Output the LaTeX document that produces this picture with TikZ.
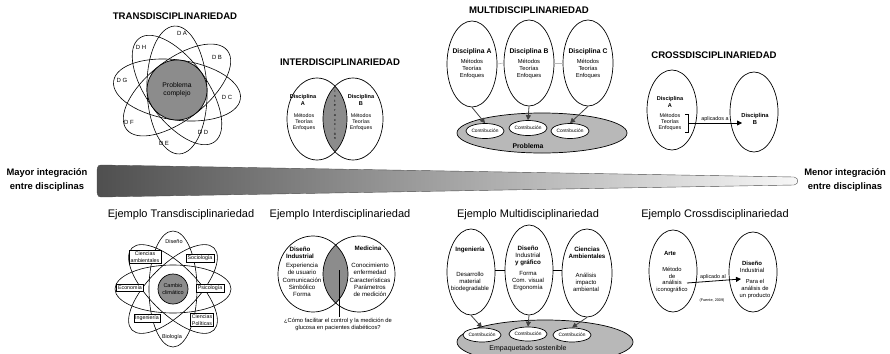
\documentclass[tikz,border=0pt]{standalone}
\usepackage{fontspec}
\setmainfont{Liberation Sans}
\usetikzlibrary{shapes.geometric,arrows.meta}
\definecolor{cg}{gray}{0.55}
\definecolor{lg}{gray}{0.72}
\definecolor{arrc}{gray}{0.25}
\definecolor{barl}{gray}{0.31}
\definecolor{barm}{gray}{0.46}
\definecolor{barr}{gray}{0.97}
\begin{document}
\begin{tikzpicture}[x=1pt,y=-1pt,
  ttl/.style={font=\fontsize{9.6}{11}\selectfont\bfseries, inner sep=0},
  ejt/.style={font=\fontsize{11}{13}\selectfont, inner sep=0},
  side/.style={font=\fontsize{9.4}{13.5}\selectfont\bfseries, align=center, inner sep=0},
  tx/.style={font=\fontsize{5.6}{6.6}\selectfont, align=center, inner sep=0.5pt},
  dl/.style={font=\fontsize{6}{7}\selectfont, inner sep=0.5pt},
  txi/.style={font=\fontsize{6.1}{7.2}\selectfont, align=center, inner sep=0.5pt},
  txs/.style={font=\fontsize{5.4}{6}\selectfont, align=center, inner sep=0.5pt},
  txb/.style={font=\fontsize{6}{7}\selectfont\bfseries, align=center, inner sep=0.5pt},
  lab/.style={font=\fontsize{5.3}{6.3}\selectfont, align=center, inner sep=1.5pt, draw, line width=0.4pt, fill=white},
  ell/.style={ellipse, draw, line width=0.7pt, inner sep=0},
  con/.style={ellipse, draw, line width=0.7pt, inner sep=0, fill=white, minimum width=38, minimum height=15, font=\fontsize{4.8}{5.5}\selectfont},
  arr/.style={-{Triangle[length=5pt,width=5pt]}, draw=arrc, line width=0.8pt},
  thinl/.style={line width=0.6pt}]
\clip (0,0) rectangle (890,353);
\fill[white] (0,0) rectangle (890,353);

% ================= TOP: TRANSDISCIPLINARIEDAD =================
\node[ttl] (ttrans) at (175,16) {TRANSDISCIPLINARIEDAD};
\foreach \r in {92,38,-8,-54}
  \draw[thinl, rotate around={\r:(177,90)}] (177,90) ellipse [x radius=64, y radius=30];
\node[circle, draw, line width=0.7pt, fill=cg, minimum size=60, inner sep=0, font=\fontsize{6.8}{8}\selectfont, align=center] (pc) at (177,90) {Problema\\complejo};
\node[dl] (da) at (182,33) {D\kern1.6pt A};
\node[dl] (db) at (217,57) {D\kern1.6pt B};
\node[dl] (dc) at (227,97) {D\kern1.6pt C};
\node[dl] (dd) at (203,132) {D\kern1.6pt D};
\node[dl] (de) at (164,143) {D\kern1.6pt E};
\node[dl] (df) at (129,122) {D\kern1.6pt F};
\node[dl] (dg) at (122,80) {D\kern1.6pt G};
\node[dl] (dh) at (141,47) {D\kern1.6pt H};

% ================= TOP: INTERDISCIPLINARIEDAD =================
\node[ttl] (tinter) at (340,62) {INTERDISCIPLINARIEDAD};
\begin{scope}
  \clip (317,119) ellipse [x radius=30, y radius=41];
  \fill[cg] (353,119) ellipse [x radius=30, y radius=41];
\end{scope}
\node[ell, minimum width=60, minimum height=82] (iA) at (317,119) {};
\node[ell, minimum width=60, minimum height=82] (iB) at (353,119) {};
\node[txb, font=\fontsize{5.6}{6.6}\selectfont\bfseries] (iAt) at (303,100) {Disciplina\\A};
\node[tx, font=\fontsize{5.3}{6.4}\selectfont] (iAm) at (304,122) {Métodos\\Teorías\\Enfoques};
\node[txb, font=\fontsize{5.6}{6.6}\selectfont\bfseries] (iBt) at (361,100) {Disciplina\\B};
\node[tx, font=\fontsize{5.3}{6.4}\selectfont] (iBm) at (361,122) {Métodos\\Teorías\\Enfoques};
\node[font=\fontsize{3.8}{4.7}\selectfont, align=center, inner sep=0] (iint) at (335,115) {i\\n\\t\\e\\r\\a\\c\\c\\i\\ó\\n};

% ================= TOP: MULTIDISCIPLINARIEDAD =================
\node[ttl] (tmulti) at (529,10) {MULTIDISCIPLINARIEDAD};
\node[ell, fill=lg, minimum width=170, minimum height=40] (mP) at (542,133) {};
\node[ell, minimum width=50, minimum height=86] (mA) at (472,64) {};
\node[ell, minimum width=50, minimum height=86] (mB) at (529,63) {};
\node[ell, minimum width=50, minimum height=86] (mC) at (588,63) {};
\draw[gray!55, thinl] (mA.east) -- (mB.west);
\draw[gray!55, thinl] (mB.east) -- (mC.west);
\node[txb, font=\fontsize{6.8}{8}\selectfont\bfseries] (mAt) at (472,52) {Disciplina A};
\node[tx, font=\fontsize{5.8}{6.6}\selectfont] (mAm) at (472,69) {Métodos\\Teorías\\Enfoques};
\node[txb, font=\fontsize{6.8}{8}\selectfont\bfseries] (mBt) at (529,52) {Disciplina B};
\node[tx, font=\fontsize{5.8}{6.6}\selectfont] (mBm) at (529,69) {Métodos\\Teorías\\Enfoques};
\node[txb, font=\fontsize{6.8}{8}\selectfont\bfseries] (mCt) at (588,52) {Disciplina C};
\node[tx, font=\fontsize{5.8}{6.6}\selectfont] (mCm) at (588,69) {Métodos\\Teorías\\Enfoques};
\node[con] (mc1) at (485,131) {Contribución};
\node[con] (mc2) at (528,128) {Contribución};
\node[con] (mc3) at (570,131) {Contribución};
\node[txb, font=\fontsize{6.8}{8}\selectfont\bfseries] (mPt) at (528,146) {Problema};
\draw[arr] (mA.south) -- (mc1.north);
\draw[arr] (mB.south) -- (mc2.north);
\draw[arr] (mC.south) -- (mc3.north);

% ================= TOP: CROSSDISCIPLINARIEDAD =================
\node[ttl] (tcross) at (714,55) {CROSSDISCIPLINARIEDAD};
\node[ell, minimum width=50, minimum height=80] (cA) at (672,110) {};
\node[ell, minimum width=48, minimum height=80] (cB) at (754,112) {};
\node[txb, font=\fontsize{5.6}{6.6}\selectfont\bfseries] (cAt) at (670,102) {Disciplina\\A};
\node[tx, font=\fontsize{5.4}{6.2}\selectfont] (cAm) at (670,122) {Métodos\\Teorías\\Enfoques};
\draw[thinl] (685,114) -- (688,114) -- (688,132) -- (685,132);
\coordinate (cbr) at (688,123);
\coordinate (cend) at (742,123);
\draw[arr, draw=black] (cbr) -- (cend);
\node[txs] (capl) at (715,119) {aplicados a};
\node[txb, font=\fontsize{5.8}{6.8}\selectfont\bfseries] (cBt) at (755,119) {Disciplina\\B};

% ================= MIDDLE BAR =================
\shade[left color=barl, middle color=barm, right color=barr, draw=gray!60!black, line width=0.4pt]
  (101,165) -- (794,177) .. controls (799,177.5) and (799,184.5) .. (794,185)
  -- (101,197) .. controls (97,197) and (97,193) .. (97,189)
  -- (97,173) .. controls (97,169) and (97,165) .. (101,165) -- cycle;
\node[side] (mayor) at (47,180) {Mayor integración\\entre disciplinas};
\node[side] (menor) at (845,180) {Menor integración\\entre disciplinas};

% ================= BOTTOM: EJEMPLO TRANS =================
\node[ejt] (etrans) at (181,215) {Ejemplo Transdisciplinariedad};
\foreach \r in {0,45,90,135}
  \draw[thinl, rotate around={\r:(173,289)}] (173,289) ellipse [x radius=58, y radius=24];
\node[circle, draw, line width=0.7pt, fill=cg, minimum size=30, inner sep=0, font=\fontsize{5.5}{6.4}\selectfont, align=center] (cc) at (173,289) {Cambio\\climático};
\node[tx, font=\fontsize{5.5}{6.2}\selectfont] (l1) at (174,242) {Diseño};
\node[lab] (l2) at (200,258) {Sociología};
\node[lab] (l3) at (210,288) {Psicología};
\node[lab] (l4) at (202,320) {Ciencias\\Políticas};
\node[tx, font=\fontsize{5.5}{6.2}\selectfont] (l5) at (172,337) {Biología};
\node[lab] (l6) at (147,318) {Ingeniería};
\node[lab] (l7) at (130,288) {Economía};
\node[lab] (l8) at (145,257) {Ciencias\\ambientales};

% ================= BOTTOM: EJEMPLO INTER =================
\node[ejt] (einter) at (340,215) {Ejemplo Interdisciplinariedad};
\begin{scope}
  \clip (313,274) ellipse [x radius=35, y radius=38];
  \fill[cg] (359,274) ellipse [x radius=36, y radius=38];
\end{scope}
\node[ell, minimum width=70, minimum height=76] (eiA) at (313,274) {};
\node[ell, minimum width=72, minimum height=76] (eiB) at (359,274) {};
\node[txb, font=\fontsize{6.2}{7.2}\selectfont\bfseries] (eiAt) at (300,253) {Diseño\\Industrial};
\node[txi] (eiAm) at (302,280) {Experiencia\\de usuario\\Comunicación\\Simbólico\\Forma};
\node[txb, font=\fontsize{6.2}{7.2}\selectfont\bfseries] (eiBt) at (368,248) {Medicina};
\node[txi] (eiBm) at (370,280) {Conocimiento\\enfermedad\\Características\\Parámetros\\de medición};
\node[txi, font=\fontsize{5.8}{7}\selectfont] (eiQ) at (338,324) {¿Cómo facilitar el control y la medición de\\glucosa en pacientes diabéticos?};
\coordinate (eiL) at (339,270);
\draw[thinl] (eiL) -- (eiQ.north -| eiL);

% ================= BOTTOM: EJEMPLO MULTI =================
\node[ejt] (emulti) at (528,215) {Ejemplo Multidisciplinariedad};
\node[ell, fill=lg, minimum width=176, minimum height=44] (emP) at (545,342) {};
\node[ell, minimum width=48, minimum height=86] (emA) at (471,272) {};
\node[ell, minimum width=48, minimum height=90] (emB) at (529,270) {};
\node[ell, minimum width=50, minimum height=88] (emC) at (587,273) {};
\draw[thinl] (emA.east |- emB.center) -- (emB.west);
\draw[thinl] (emB.east) -- (emC.west |- emB.center);
\node[txb, font=\fontsize{6.2}{7.2}\selectfont\bfseries] (emAt) at (470,250) {Ingeniería};
\node[tx, font=\fontsize{6}{7}\selectfont] (emAm) at (470,282) {Desarrollo\\material\\biodegradable};
\node[txb, font=\fontsize{6.2}{7.2}\selectfont\bfseries] (emBt) at (528,256) {Diseño\\\mdseries Industrial\\\bfseries y gráfico};
\node[tx, font=\fontsize{6}{7}\selectfont] (emBm) at (528,281) {Forma\\Com. visual\\Ergonomía};
\node[txb, font=\fontsize{6.2}{7.2}\selectfont\bfseries] (emCt) at (587,253) {Ciencias\\Ambientales};
\node[tx, font=\fontsize{6}{7}\selectfont] (emCm) at (586,282) {Análisis\\impacto\\ambiental};
\node[con, minimum height=14] (emc1) at (482,335) {Contribución};
\node[con, minimum height=14] (emc2) at (528,334) {Contribución};
\node[con, minimum height=14] (emc3) at (572,335) {Contribución};
\node[font=\fontsize{7}{8}\selectfont, inner sep=0] (emPt) at (528,349) {Empaquetado sostenible};
\draw[arr] (emA.south) -- (emc1.north);
\draw[arr] (emB.south) -- (emc2.north);
\draw[arr] (emC.south) -- (emc3.north);

% ================= BOTTOM: EJEMPLO CROSS =================
\node[ejt] (ecross) at (715,215) {Ejemplo Crossdisciplinariedad};
\node[ell, minimum width=48, minimum height=82] (ecA) at (673,271) {};
\node[ell, minimum width=48, minimum height=80] (ecB) at (753,272) {};
\node[txb, font=\fontsize{6}{7}\selectfont\bfseries] (ecAt) at (670,253) {Arte};
\node[tx, font=\fontsize{5.8}{6.8}\selectfont] (ecAm) at (672,280) {Método\\de\\análisis\\iconográfico};
\node[txb, font=\fontsize{6}{7}\selectfont\bfseries] (ecBt) at (752,267) {Diseño\\\mdseries Industrial};
\node[tx, font=\fontsize{5.8}{6.8}\selectfont] (ecBm) at (755,289) {Para el\\análisis de\\un producto};
\coordinate (ecs) at (687,283);
\coordinate (ece) at (741,279);
\draw[arr, draw=black] (ecs) -- (ece);
\node[txs] (ecapl) at (713,277) {aplicado al};
\node[font=\fontsize{3.8}{4.5}\selectfont, inner sep=0] (ecsrc) at (712,301) {(Fuente, 2009)};
\end{tikzpicture}
\end{document}
